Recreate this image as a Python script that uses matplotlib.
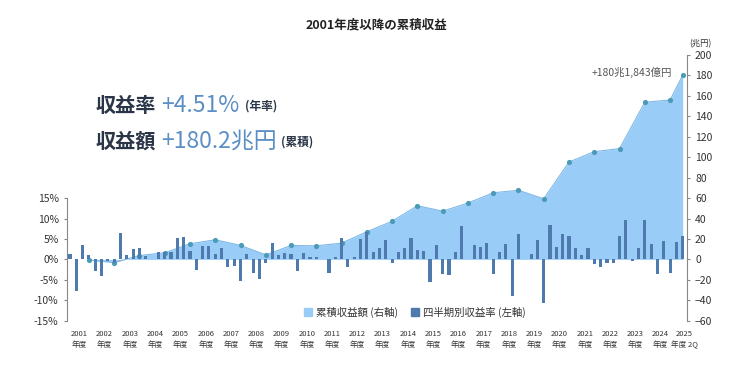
import matplotlib
matplotlib.use("Agg")
import matplotlib.pyplot as plt
import numpy as np
from matplotlib.patches import Patch

plt.rcParams["font.family"] = ["Noto Sans CJK JP", "DejaVu Sans"]

# quarterly returns (%), FY2001 Q1 .. FY2025 Q2
quarterly = [
    1.2, -7.7, 3.5, 1.0,   -2.9, -4.0, -0.5, -0.9,   6.5, 1.1, 2.6, 2.8,
    0.9, 0.2, 1.9, 1.8,    1.7, 5.3, 5.4, 2.0,      -2.5, 3.3, 3.3, 1.2,
    2.9, -1.8, -1.7, -5.3, 1.2, -3.3, -4.7, -0.9,   3.9, 1.1, 1.6, 1.4,
    -2.9, 1.6, 0.7, 0.7,   0.2, -3.3, 0.7, 5.3,     -1.9, 0.6, 4.9, 6.8,
    1.9, 2.7, 4.7, -0.9,   1.9, 2.8, 5.3, 2.2,      2.0, -5.5, 3.6, -3.5,
    -3.8, 1.9, 8.1, 0.2,   3.6, 3.0, 4.1, -3.6,     1.8, 3.7, -8.9, 6.3,
    0.2, 1.3, 4.7, -10.7,  8.5, 3.1, 6.3, 5.8,      2.8, 1.1, 2.9, -1.1,
    -1.8, -0.8, -1.0, 5.6, 9.6, -0.3, 2.8, 9.6,     3.7, -3.6, 4.5, -3.4,
    4.2, 5.6,
]
# cumulative return (trillion yen) at each fiscal year end, last = 2025 2Q
cumulative = [
    -0.6, -3.1, 3.8, 6.4, 15.3, 19.2, 13.7, 4.4, 13.6, 13.3, 15.9, 27.1,
    37.3, 52.5, 47.2, 55.1, 65.2, 67.6, 59.3, 95.3, 105.4, 108.4, 153.8,
    156.0, 180.2,
]
years = [str(y) for y in range(2001, 2026)]

bar_x = np.arange(len(quarterly))
cum_x = [i * 4 + 3 for i in range(len(cumulative) - 1)] + [len(quarterly) - 1]

fill_c = "#99CCF7"
dot_c = "#4A9AB8"
bar_c = "#4F7AAE"
grey = "#333333"

fig = plt.figure(figsize=(7.44, 3.75), dpi=100)
ax = fig.add_axes([0.090, 0.1448, 0.833, 0.7085])
ax2 = ax.twinx()

# cumulative area on right axis, drawn behind bars
ax2.fill_between(cum_x, cumulative, 0, color=fill_c, lw=0, zorder=1)
ax2.plot(cum_x, cumulative, color="#7FB8E6", lw=0.8, zorder=2)
ax2.scatter(cum_x, cumulative, s=14, color=dot_c, zorder=4, linewidths=0)
ax2.set_ylim(-60, 200)
ax2.set_yticks(range(-60, 201, 20))

ax.set_zorder(ax2.get_zorder() + 1)
ax.patch.set_visible(False)
ax.bar(bar_x, quarterly, width=0.5, color=bar_c, zorder=3)
ax.set_ylim(-15, 50)
ax.set_yticks([-15, -10, -5, 0, 5, 10, 15])
ax.set_yticklabels([f"{v}%" for v in [-15, -10, -5, 0, 5, 10, 15]])
ax.set_xlim(-0.47, 97.63)

# x labels: year centered on its quarters
lab_x = [i * 4 + 1.5 for i in range(len(years) - 1)] + [97.3]
lab_t = [f"{y}\n年度" for y in years[:-1]] + [f"{years[-1]}\n年度 2Q"]
ax.set_xticks(lab_x)
ax.set_xticklabels(lab_t, fontsize=5.5, color=grey, linespacing=1.4)
ax.tick_params(axis="x", length=0, pad=7)

for a in (ax, ax2):
    for s in ("top", "bottom"):
        a.spines[s].set_visible(False)
ax.spines["right"].set_visible(False)
ax2.spines["left"].set_visible(False)
ax.spines["left"].set_bounds(-15, 15)
ax.spines["left"].set_color("#888888")
ax2.spines["right"].set_color("#888888")
ax.tick_params(axis="y", labelsize=7.5, colors="#888888", labelcolor=grey,
               length=2.5, width=0.8)
ax2.tick_params(axis="y", labelsize=7.5, colors="#888888", labelcolor=grey,
                length=2.5, width=0.8)

fig.text(700 / 744, 1 - 44 / 375, "(兆円)", fontsize=6, color=grey,
         ha="center", va="center")
ax2.annotate("+180兆1,843億円", xy=(cum_x[-1], cumulative[-1]),
             xytext=(-8, 2), textcoords="offset points",
             ha="right", va="center", fontsize=7.5, color="#555555")

fig.text(376 / 744, 1 - 25 / 375, "2001年度以降の累積収益", ha="center",
         va="center", fontsize=9, fontweight="bold", color="#222222")

# headline figures
navy = "#2A3547"
blue = "#5B8EC4"
for yy, lab, val in [(105, "収益率", "+4.51%"), (141.5, "収益額", "+180.2兆円")]:
    fy = 1 - yy / 375
    fig.text(96 / 744, fy, lab, fontsize=14.5, fontweight="bold",
             color=navy, va="center")
    fig.text(161 / 744, fy, val, fontsize=16.5, color=blue, va="center")
fig.text(245 / 744, 1 - 106 / 375, "(年率)", fontsize=8.5, fontweight="bold",
         color=navy, va="center")
fig.text(281 / 744, 1 - 142.5 / 375, "(累積)", fontsize=8.5, fontweight="bold",
         color=navy, va="center")

handles = [Patch(color=fill_c, label="累積収益額 (右軸)"),
           Patch(color=bar_c, label="四半期別収益率 (左軸)")]
fig.legend(handles=handles, loc="center", bbox_to_anchor=(415 / 744, 1 - 312 / 375),
           ncol=2, frameon=False, fontsize=7.5, handlelength=0.8,
           handleheight=0.8, handletextpad=0.4, columnspacing=1.2,
           labelcolor=grey)

fig.savefig("out.png", dpi=100)
